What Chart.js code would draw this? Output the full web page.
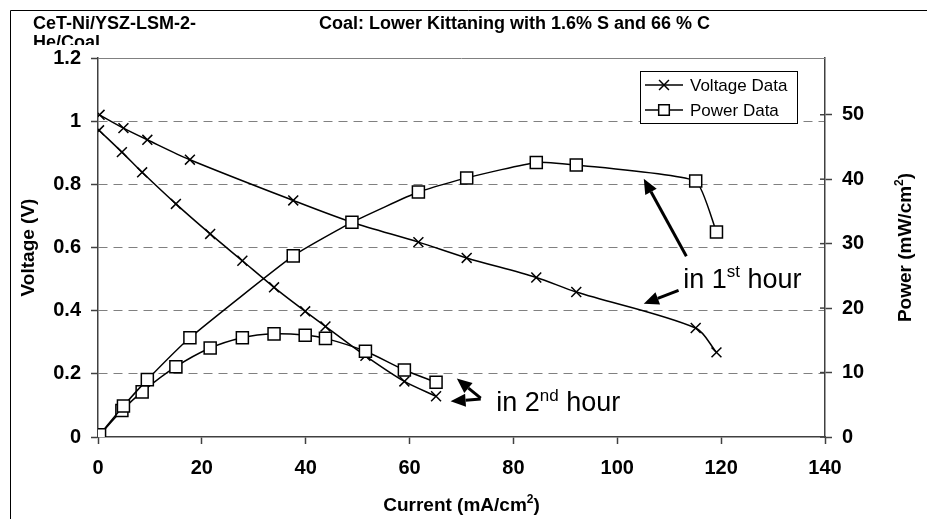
<!DOCTYPE html>
<html>
<head>
<meta charset="utf-8">
<script src="https://cdn.jsdelivr.net/npm/chart.js@4.4.0/dist/chart.umd.min.js"></script>
<style>
  html, body { margin: 0; padding: 0; background: #fff; }
  canvas { display: block; }
</style>
</head>
<body>
<canvas id="chart" width="927" height="519"></canvas>
<script>
// 1st hour
const current1 = [0.3, 4.9, 9.5, 17.7, 37.6, 48.9, 61.7, 71.0, 84.4, 92.1, 115.1, 119.1];
const voltage1 = [1.02, 0.978, 0.941, 0.878, 0.749, 0.68, 0.617, 0.567, 0.505, 0.459, 0.345, 0.268];
const power1 = [0.35, 4.8, 8.9, 15.4, 28.1, 33.3, 38.0, 40.2, 42.6, 42.2, 39.7, 31.8];
// 2nd hour
const current2 = [0.2, 4.6, 8.5, 15.0, 21.6, 27.8, 33.9, 39.9, 43.8, 51.5, 59.0, 65.1];
const voltage2 = [0.971, 0.902, 0.838, 0.738, 0.643, 0.558, 0.474, 0.398, 0.350, 0.257, 0.176, 0.129];
const power2 = [0.2, 4.1, 7.0, 10.9, 13.8, 15.4, 16.0, 15.8, 15.3, 13.3, 10.4, 8.5];

// tick labels
const xTicks = [0, 20, 40, 60, 80, 100, 120, 140];
const vTicks = [0, 0.2, 0.4, 0.6, 0.8, 1, 1.2];
const pTicks = [0, 10, 20, 30, 40, 50];

const FONT = "'Liberation Sans', Arial, sans-serif";
const dark = '#404040';
const gray = '#808080';

const pts = (xs, ys) => xs.map((x, i) => ({ x: x, y: ys[i] }));
const setTicks = arr => s => { s.ticks = arr.map(v => ({ value: v })); };

// text with superscript parts
function richText(ctx, parts, x, y, size, weight, align) {
  const big = weight + ' ' + size + 'px ' + FONT;
  const small = weight + ' ' + Math.round(size * 0.63) + 'px ' + FONT;
  let w = 0;
  parts.forEach(p => { ctx.font = p.sup ? small : big; w += ctx.measureText(p.t).width; });
  let cx = align === 'center' ? x - w / 2 : x;
  ctx.textAlign = 'left';
  parts.forEach(p => {
    ctx.font = p.sup ? small : big;
    ctx.fillText(p.t, cx, p.sup ? y - size * 0.4 : y);
    cx += ctx.measureText(p.t).width;
  });
}

function arrow(ctx, x1, y1, x2, y2) {
  const a = Math.atan2(y2 - y1, x2 - x1);
  const hl = 15, hw = 6.5;
  const bx = x2 - hl * Math.cos(a), by = y2 - hl * Math.sin(a);
  ctx.beginPath();
  ctx.moveTo(x1, y1);
  ctx.lineTo(bx, by);
  ctx.lineWidth = 3;
  ctx.stroke();
  ctx.beginPath();
  ctx.moveTo(x2, y2);
  ctx.lineTo(bx + hw * Math.sin(a), by - hw * Math.cos(a));
  ctx.lineTo(bx - hw * Math.sin(a), by + hw * Math.cos(a));
  ctx.closePath();
  ctx.fill();
}

const extras = {
  id: 'extras',
  afterDraw(chart) {
    const ctx = chart.ctx;
    const ca = chart.chartArea;
    const xs = chart.scales.x, ys = chart.scales.y, y1 = chart.scales.y1;
    ctx.save();

    // outer frame
    ctx.strokeStyle = '#000';
    ctx.lineWidth = 1;
    ctx.beginPath();
    ctx.moveTo(10.5, chart.height);
    ctx.lineTo(10.5, 10.5);
    ctx.lineTo(chart.width, 10.5);
    ctx.stroke();

    // top border of plot area
    ctx.strokeStyle = gray;
    ctx.beginPath();
    ctx.moveTo(ca.left, Math.round(ca.top) + 0.5);
    ctx.lineTo(ca.right, Math.round(ca.top) + 0.5);
    ctx.stroke();

    // inner part of right axis ticks
    ctx.strokeStyle = dark;
    ctx.lineWidth = 1.5;
    y1.ticks.forEach(t => {
      const py = y1.getPixelForValue(t.value);
      ctx.beginPath();
      ctx.moveTo(ca.right - 5, py);
      ctx.lineTo(ca.right, py);
      ctx.stroke();
    });

    // titles
    ctx.fillStyle = '#000';
    ctx.textBaseline = 'alphabetic';
    ctx.textAlign = 'left';
    ctx.font = 'bold 18px ' + FONT;
    ctx.fillText('CeT-Ni/YSZ-LSM-2-', 33, 29);
    ctx.fillText('Coal: Lower Kittaning with 1.6% S and 66 % C', 319, 29);
    ctx.save();
    ctx.beginPath();
    ctx.rect(0, 0, chart.width, 45);
    ctx.clip();
    ctx.fillText('He/Coal', 33, 48);
    ctx.restore();

    // axis titles
    const midY = (ca.top + ca.bottom) / 2;
    richText(ctx, [{ t: 'Current (mA/cm' }, { t: '2', sup: true }, { t: ')' }], (ca.left + ca.right) / 2, 511, 19, 'bold', 'center');
    ctx.save();
    ctx.translate(34, midY);
    ctx.rotate(-Math.PI / 2);
    richText(ctx, [{ t: 'Voltage (V)' }], 0, 0, 19, 'bold', 'center');
    ctx.restore();
    ctx.save();
    ctx.translate(911, midY);
    ctx.rotate(-Math.PI / 2);
    richText(ctx, [{ t: 'Power (mW/cm' }, { t: '2', sup: true }, { t: ')' }], 0, 0, 19, 'bold', 'center');
    ctx.restore();

    // legend
    const lx = 640.5, ly = 71.5, lw = 157, lh = 52;
    ctx.fillStyle = '#fff';
    ctx.fillRect(lx, ly, lw, lh);
    ctx.strokeStyle = '#000';
    ctx.lineWidth = 1;
    ctx.strokeRect(lx, ly, lw, lh);
    const rows = [
      { label: chart.data.datasets[2].label, y: 85, style: 'crossRot', r: 7 },
      { label: chart.data.datasets[0].label, y: 110, style: 'rect', r: 7.5 }
    ];
    rows.forEach(row => {
      ctx.strokeStyle = '#000';
      ctx.lineWidth = 1.5;
      ctx.beginPath();
      ctx.moveTo(645, row.y);
      ctx.lineTo(683, row.y);
      ctx.stroke();
      ctx.fillStyle = '#fff';
      Chart.helpers.drawPoint(ctx, { pointStyle: row.style, radius: row.r, borderWidth: 1.5, rotation: 0 }, 664, row.y);
      ctx.fillStyle = '#000';
      ctx.font = '17px ' + FONT;
      ctx.textBaseline = 'middle';
      ctx.fillText(row.label, 690, row.y + 1);
    });

    // annotations, positioned in data units (current, voltage)
    const X = v => xs.getPixelForValue(v), Y = v => ys.getPixelForValue(v);
    ctx.fillStyle = '#000';
    ctx.strokeStyle = '#000';
    arrow(ctx, X(113.3), Y(0.572), X(105.1), Y(0.818));
    arrow(ctx, X(111.8), Y(0.464), X(105.1), Y(0.422));
    arrow(ctx, X(73.7), Y(0.123), X(69.1), Y(0.185));
    arrow(ctx, X(73.7), Y(0.120), X(67.9), Y(0.113));
    ctx.textBaseline = 'alphabetic';
    richText(ctx, [{ t: 'in 1' }, { t: 'st', sup: true }, { t: ' hour' }], X(112.7), Y(0.473), 27, 'normal', 'left');
    richText(ctx, [{ t: 'in 2' }, { t: 'nd', sup: true }, { t: ' hour' }], X(76.7), Y(0.081), 27, 'normal', 'left');

    ctx.restore();
  }
};

const lineStyle = {
  borderColor: '#000',
  borderWidth: 1.5,
  pointBorderColor: '#000',
  pointBorderWidth: 1.5,
  fill: false
};

const tickFont = { family: FONT, size: 20, weight: 'bold' };

new Chart(document.getElementById('chart'), {
  type: 'line',
  data: {
    datasets: [
      Object.assign({ label: 'Power Data', data: pts(current1, power1), yAxisID: 'y1', tension: 0.15,
        pointStyle: 'rect', pointRadius: 8.5, pointBackgroundColor: '#fff' }, lineStyle),
      Object.assign({ label: 'Power Data', data: pts(current2, power2), yAxisID: 'y1', tension: 0.3,
        pointStyle: 'rect', pointRadius: 8.5, pointBackgroundColor: '#fff' }, lineStyle),
      Object.assign({ label: 'Voltage Data', data: pts(current1, voltage1), yAxisID: 'y', tension: 0.3,
        pointStyle: 'crossRot', pointRadius: 7 }, lineStyle),
      Object.assign({ label: 'Voltage Data', data: pts(current2, voltage2), yAxisID: 'y', tension: 0.3,
        pointStyle: 'crossRot', pointRadius: 7 }, lineStyle)
    ]
  },
  options: {
    responsive: false,
    animation: false,
    events: [],
    layout: { padding: { top: 58, left: 0, right: 0, bottom: 0 } },
    plugins: { legend: { display: false }, tooltip: { enabled: false } },
    scales: {
      x: {
        type: 'linear', min: 0, max: 140,
        afterBuildTicks: setTicks(xTicks),
        afterFit: s => { s.height = 82; },
        grid: { drawOnChartArea: false, tickLength: 7, tickColor: dark, tickWidth: 1.5 },
        border: { color: dark, width: 1.5 },
        ticks: { color: '#000', padding: 12, maxRotation: 0, font: tickFont, callback: v => String(v) }
      },
      y: {
        position: 'left', min: 0, max: 1.2,
        afterBuildTicks: setTicks(vTicks),
        afterFit: s => { s.width = 98; },
        grid: {
          color: c => (c.tick && (c.tick.value === 0 || c.tick.value === 1.2)) ? 'rgba(0,0,0,0)' : gray,
          lineWidth: 1, tickLength: 7, tickColor: dark, tickWidth: 1.5
        },
        border: { color: dark, width: 1.5, dash: [9, 6] },
        ticks: { color: '#000', padding: 10, font: tickFont, callback: v => String(v) }
      },
      y1: {
        position: 'right', min: 0, max: 58.8,
        afterBuildTicks: setTicks(pTicks),
        afterFit: s => { s.width = 102; },
        grid: { drawOnChartArea: false, tickLength: 7, tickColor: dark, tickWidth: 1.5 },
        border: { color: dark, width: 1.5 },
        ticks: { color: '#000', padding: 10, font: tickFont, callback: v => String(v) }
      }
    }
  },
  plugins: [extras]
});
</script>
</body>
</html>
